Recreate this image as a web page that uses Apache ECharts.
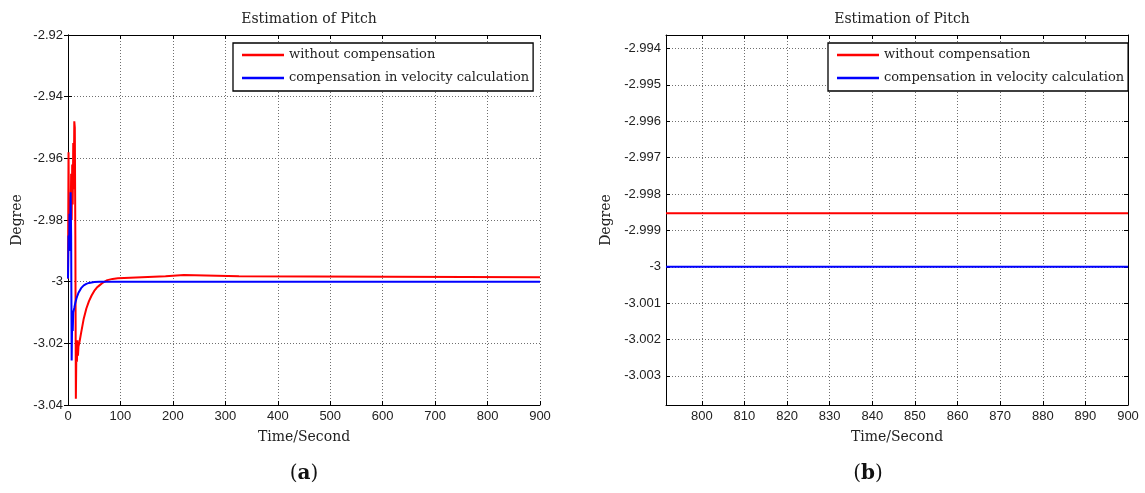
<!DOCTYPE html>
<html>
<head>
<meta charset="utf-8">
<script src="https://cdn.jsdelivr.net/npm/echarts@6/dist/echarts.min.js"></script>
<style>
html,body{margin:0;padding:0;background:#fff;}
#c{width:1145px;height:493px;}
</style>
</head>
<body>
<div id="c"></div>
<script>
// ---------- data ----------
const seriesNames = ['without compensation', 'compensation in velocity calculation'];

// Panel (a)
const timeRedA = [0,1,2,3,4,5,6,7,8,9,10,11,12,13,14,15,16,17,18,19,20,22,25,30,35,40,45,50,55,60,65,70,75,85,95,107,110,186,188,221,223,326,328,900];
const redA = [-2.999,-2.958,-2.985,-2.975,-2.99,-2.98,-2.965,-2.98,-2.962,-2.975,-2.955,-2.97,-2.948,-2.95,-2.985,-3.038,-3.022,-3.026,-3.019,-3.024,-3.021,-3.0195,-3.0166,-3.012,-3.0087,-3.0063,-3.0045,-3.003,-3.0019,-3.0012,-3.0005,-3.0,-2.9995,-2.9991,-2.9989,-2.9988,-2.99835,-2.99827,-2.99784,-2.99784,-2.99827,-2.99827,-2.99853,-2.99853];
const timeBlueA = [0,1,2,3,4,5,6,7,8,9,10,11,12,14,16,18,20,25,30,35,40,50,60,900];
const blueA = [-2.999,-2.985,-2.99,-2.978,-2.99,-2.971,-2.985,-3.0256,-3.011,-3.016,-3.010,-3.0095,-3.0085,-3.0068,-3.0055,-3.0045,-3.0036,-3.0021,-3.0012,-3.0007,-3.0004,-3.0001,-3.0,-3.0];

// Panel (b)
const timeB = [791.6, 800, 825, 850, 875, 900];
const redB = [-2.99853,-2.99853,-2.99853,-2.99853,-2.99853,-2.99853];
const blueB = [-3.0,-3.0,-3.0,-3.0,-3.0,-3.0];
const xTicksB = [800,810,820,830,840,850,860,870,880,890,900];
const yTicksB = [-3.003,-3.002,-3.001,-3.0,-2.999,-2.998,-2.997,-2.996,-2.995,-2.994];

const titleText = 'Estimation of Pitch';
const xName = 'Time/Second';
const yName = 'Degree';

// ---------- chart ----------
const serif = '"DejaVu Serif", "Liberation Serif", serif';
const sans = '"Liberation Sans", Arial, sans-serif';
const RED = '#ff0000', BLUE = '#0000ff';

function pairs(xs, ys){ return xs.map((x,i)=>[x, ys[i]]); }

const tickStyle = {show:true, inside:true, length:4, lineStyle:{color:'#000', width:1}};
const axisLineStyle = {show:true, lineStyle:{color:'#000', width:1}};
const splitStyle = {show:true, lineStyle:{color:'#6f6f6f', width:1, type:[1,2]}};
const labelStyle = {fontFamily: sans, fontSize: 13, color: '#222', margin: 5};

const grids = [
  {left:68, top:35, width:472, height:370},
  {left:666, top:35, width:462, height:370}
];

const nameStyleX = {fontFamily:serif, fontSize:14, color:'#222', verticalAlign:'top'};
const nameStyleY = {fontFamily:serif, fontSize:14, color:'#222'};

const xAxes = [
  {gridIndex:0, type:'value', min:0, max:900, interval:100, position:'bottom',
   axisLine:axisLineStyle, axisTick:tickStyle, splitLine:splitStyle, axisLabel:labelStyle,
   name:xName, nameLocation:'middle', nameGap:25, nameTextStyle:nameStyleX},
  {gridIndex:0, type:'value', min:0, max:900, interval:100, position:'top',
   axisLine:axisLineStyle, axisTick:tickStyle, splitLine:{show:false}, axisLabel:{show:false}},
  {gridIndex:1, type:'value', min:791.6, max:900, position:'bottom',
   axisLine:axisLineStyle, axisTick:Object.assign({customValues:xTicksB}, tickStyle),
   splitLine:splitStyle, axisLabel:Object.assign({customValues:xTicksB}, labelStyle),
   name:xName, nameLocation:'middle', nameGap:25, nameTextStyle:nameStyleX},
  {gridIndex:1, type:'value', min:791.6, max:900, position:'top',
   axisLine:axisLineStyle, axisTick:Object.assign({customValues:xTicksB}, tickStyle),
   splitLine:{show:false}, axisLabel:{show:false}}
];

const yAxes = [
  {gridIndex:0, type:'value', min:-3.04, max:-2.92, interval:0.02, position:'left',
   axisLine:axisLineStyle, axisTick:tickStyle, splitLine:splitStyle, axisLabel:labelStyle,
   name:yName, nameLocation:'middle', nameGap:44, nameTextStyle:nameStyleY},
  {gridIndex:0, type:'value', min:-3.04, max:-2.92, interval:0.02, position:'right',
   axisLine:axisLineStyle, axisTick:tickStyle, splitLine:{show:false}, axisLabel:{show:false}},
  {gridIndex:1, type:'value', min:-3.0038, max:-2.99363, position:'left',
   axisLine:axisLineStyle, axisTick:Object.assign({customValues:yTicksB}, tickStyle),
   splitLine:splitStyle, axisLabel:Object.assign({customValues:yTicksB}, labelStyle),
   name:yName, nameLocation:'middle', nameGap:53, nameTextStyle:nameStyleY},
  {gridIndex:1, type:'value', min:-3.0038, max:-2.99363, position:'right',
   axisLine:axisLineStyle, axisTick:Object.assign({customValues:yTicksB}, tickStyle),
   splitLine:{show:false}, axisLabel:{show:false}}
];

function lineSeries(name, data, xi, yi, color){
  return {name, type:'line', xAxisIndex:xi, yAxisIndex:yi, data, showSymbol:false, symbol:'none',
          lineStyle:{color, width:2}, itemStyle:{color}, animation:false, clip:true};
}

const legendBase = {
  orient:'vertical', icon:'rect', itemWidth:42, itemHeight:2.5, itemGap:7,
  backgroundColor:'#fff', borderColor:'#000', borderWidth:1.3, borderRadius:0,
  padding:[4,4,5,9],
  textStyle:{fontFamily:serif, fontSize:13, color:'#222', lineHeight:16},
  data:seriesNames, selectedMode:false
};

const option = {
  backgroundColor:'#fff',
  animation:false,
  title:[
    {text:titleText, left:304, top:7, textAlign:'center',
     textStyle:{fontFamily:serif, fontSize:14, fontWeight:'normal', color:'#222'}},
    {text:titleText, left:897, top:7, textAlign:'center',
     textStyle:{fontFamily:serif, fontSize:14, fontWeight:'normal', color:'#222'}}
  ],
  legend:[
    Object.assign({left:233, top:43}, legendBase),
    Object.assign({left:828, top:43}, legendBase)
  ],
  grid:grids,
  xAxis:xAxes,
  yAxis:yAxes,
  series:[
    lineSeries(seriesNames[0], pairs(timeRedA, redA), 0, 0, RED),
    lineSeries(seriesNames[1], pairs(timeBlueA, blueA), 0, 0, BLUE),
    lineSeries(seriesNames[0], pairs(timeB, redB), 2, 2, RED),
    lineSeries(seriesNames[1], pairs(timeB, blueB), 2, 2, BLUE)
  ],
  graphic:[
    {type:'text', x:304, y:474, style:{text:'({b|a})', fontFamily:serif, fontSize:20, fill:'#111',
      align:'center', verticalAlign:'middle',
      rich:{b:{fontFamily:serif, fontSize:20, fontWeight:'bold', fill:'#111'}}}},
    {type:'text', x:868, y:474, style:{text:'({b|b})', fontFamily:serif, fontSize:20, fill:'#111',
      align:'center', verticalAlign:'middle',
      rich:{b:{fontFamily:serif, fontSize:20, fontWeight:'bold', fill:'#111'}}}}
  ]
};

const chart = echarts.init(document.getElementById('c'), null, {renderer:'canvas'});
chart.setOption(option);
</script>
</body>
</html>
